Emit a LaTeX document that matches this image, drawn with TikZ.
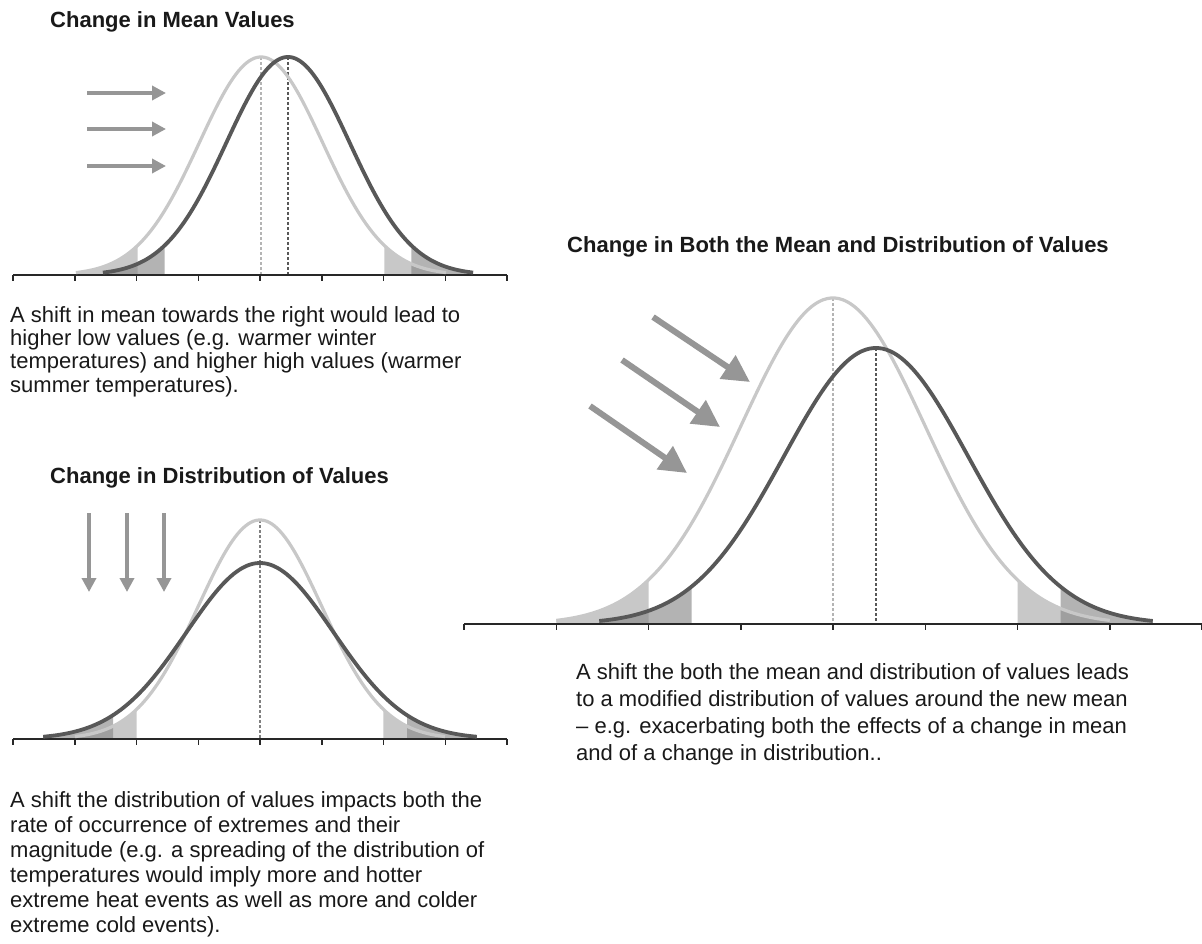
\documentclass[tikz,border=0pt]{standalone}
\usepackage{fontspec}
\setmainfont{Liberation Sans}
\usetikzlibrary{arrows.meta}
\definecolor{lightc}{RGB}{200,200,200}
\definecolor{darkc}{RGB}{88,88,88}
\definecolor{arrowc}{RGB}{150,150,150}
\definecolor{axisc}{RGB}{40,40,40}
\definecolor{shadeD}{RGB}{137,137,137}
\definecolor{textc}{RGB}{25,25,25}
\newcommand{\gcurve}[6]{\draw[#1] plot[domain=#2-#6*#3:#2+#6*#3, samples=140, smooth] (\x,{#5-#4*gss(\x,#2,#3)});}
\newcommand{\gshade}[7]{\fill[#1] plot[domain=#6:#7, samples=40, smooth] (\x,{#5-#4*gss(\x,#2,#3)}) -- (#7,#5) -- (#6,#5) -- cycle;}
\begin{document}
\begin{tikzpicture}[x=1pt,y=-1pt,
  declare function={gss(\u,\v,\w)=exp(-0.5*((\u-\v)/\w)^2);},
  lightcurve/.style={draw=lightc, line width=3.2pt},
  darkcurve/.style={draw=darkc, line width=3.8pt},
  lightshade/.style={fill=lightc},
  darkshade/.style={fill=shadeD, fill opacity=0.64},
  axisline/.style={draw=axisc, line width=1.8pt},
  tickmark/.style={draw=axisc, line width=1.5pt},
  lightdash/.style={draw=lightc!90!black, line width=1.1pt, dash pattern=on 3pt off 2pt},
  middash/.style={draw=gray, line width=1.1pt, dash pattern=on 3pt off 2pt},
  darkdash/.style={draw=darkc, line width=1.4pt, dash pattern=on 3pt off 2pt},
  smallarrow/.style={draw=arrowc, line width=4pt, -{Triangle[length=14pt,width=14pt]}},
  bigarrow/.style={draw=arrowc, line width=6pt, -{Triangle[length=27pt,width=27pt]}},
  titletext/.style={font=\bfseries\fontsize{22}{26}\selectfont, text=textc, inner sep=0pt, anchor=base west},
  bodytext/.style={text=textc, inner sep=0pt, anchor=base west, align=left}
]
\fill[white] (0,0) rectangle (1202,943);
\useasboundingbox (0,0) rectangle (1202,943);

% ---------- Panel 1: change in mean ----------
\node[titletext] (t1) at (50,27) {Change in Mean Values};
\gshade{lightshade}{261}{61.7}{218}{275}{76}{137.6}
\gshade{lightshade}{261}{61.7}{218}{275}{384.4}{446}
\gshade{darkshade}{288}{61.7}{218}{275}{103}{164.6}
\gshade{darkshade}{288}{61.7}{218}{275}{411.4}{473}
\draw[lightdash] (261,57) -- (261,275);
\draw[darkdash] (288,57) -- (288,275);
\draw[axisline] (13,275) -- (507,275);
\foreach \k in {0,...,8} \draw[tickmark] (13+\k*61.75,275) -- ++(0,6);
\gcurve{lightcurve}{261}{61.7}{218}{275}{3}
\gcurve{darkcurve}{288}{61.7}{218}{275}{3}
\draw[smallarrow] (87,93) -- (166,93);
\draw[smallarrow] (87,129) -- (166,129);
\draw[smallarrow] (87,166) -- (166,166);
% anchor base = baseline of the last line
\node[bodytext, font=\fontsize{22}{23.3}\selectfont] (b1) at (10,392) {A shift in mean towards the right would lead to\\higher low values (e.g. warmer winter\\temperatures) and higher high values (warmer\\summer temperatures).};

% ---------- Panel 2: change in distribution ----------
\node[titletext] (t2) at (50,483) {Change in Distribution of Values};
\gshade{lightshade}{260}{61.7}{219}{739}{75}{136.6}
\gshade{lightshade}{260}{61.7}{219}{739}{383.4}{445}
\gshade{darkshade}{260}{73.5}{176}{739}{47}{113}
\gshade{darkshade}{260}{73.5}{176}{739}{407}{473}
\draw[middash] (260,520) -- (260,739);
\draw[axisline] (13,739) -- (507,739);
\foreach \k in {0,...,8} \draw[tickmark] (13+\k*61.75,739) -- ++(0,6);
\gcurve{lightcurve}{260}{61.7}{219}{739}{3}
\gcurve{darkcurve}{260}{73.5}{176}{739}{2.95}
\draw[smallarrow] (89,513) -- (89,592);
\draw[smallarrow] (127,513) -- (127,592);
\draw[smallarrow] (164,513) -- (164,592);
\node[bodytext, font=\fontsize{22}{25}\selectfont] (b2) at (10,932) {A shift the distribution of values impacts both the\\rate of occurrence of extremes and their\\magnitude (e.g. a spreading of the distribution of\\temperatures would imply more and hotter\\extreme heat events as well as more and colder\\extreme cold events).};

% ---------- Panel 3: change in both ----------
\node[titletext] (t3) at (567,252) {Change in Both the Mean and Distribution of Values};
\gshade{lightshade}{833}{92.25}{326}{624}{556.3}{648.5}
\gshade{lightshade}{833}{92.25}{326}{624}{1017.5}{1109.7}
\gshade{darkshade}{876}{92.25}{276}{624}{599.3}{691.5}
\gshade{darkshade}{876}{92.25}{276}{624}{1060.5}{1152.7}
\draw[lightdash] (833,298) -- (833,624);
\draw[darkdash] (876,348) -- (876,624);
\draw[axisline] (464,624) -- (1202,624);
\foreach \k in {0,...,8} \draw[tickmark] (464+\k*92.25,624) -- ++(0,6);
\gcurve{lightcurve}{833}{92.25}{326}{624}{3}
\gcurve{darkcurve}{876}{92.25}{276}{624}{3}
\draw[bigarrow] (653,317) -- (750,382);
\draw[bigarrow] (622,360) -- (720,427);
\draw[bigarrow] (590,406) -- (687,473);
\node[bodytext, font=\fontsize{22}{27}\selectfont] (b3) at (576,760) {A shift the both the mean and distribution of values leads\\to a modified distribution of values around the new mean\\– e.g. exacerbating both the effects of a change in mean\\and of a change in distribution..};
\end{tikzpicture}
\end{document}
